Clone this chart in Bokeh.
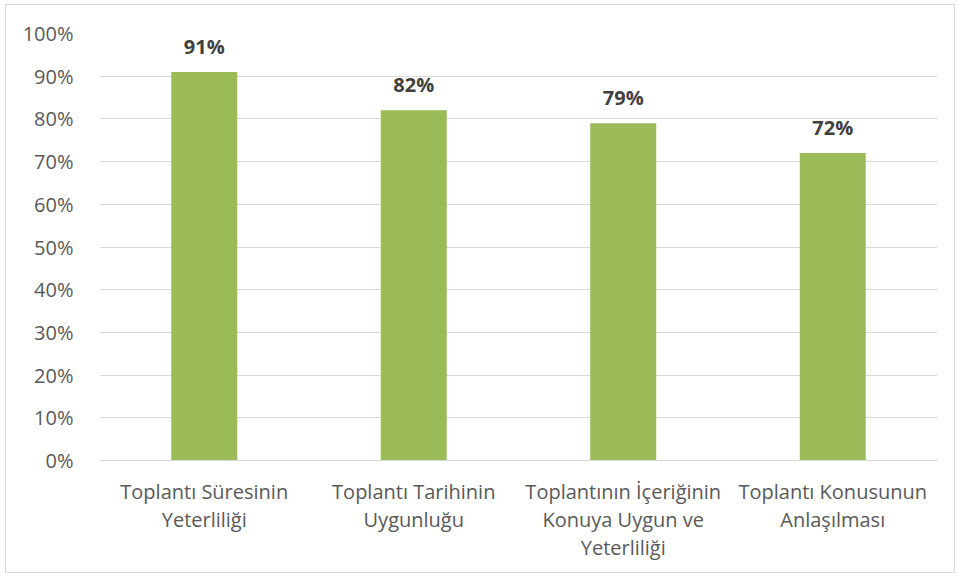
from bokeh.plotting import figure
from bokeh.models import NumeralTickFormatter, ColumnDataSource, FixedTicker
from bokeh.core.properties import value
from bokeh.embed import file_html
from bokeh.resources import INLINE

categories = [
    "Toplantı Süresinin\nYeterliliği",
    "Toplantı Tarihinin\nUygunluğu",
    "Toplantının İçeriğinin\nKonuya Uygun ve\nYeterliliği",
    "Toplantı Konusunun\nAnlaşılması",
]
values = [0.91, 0.82, 0.79, 0.72]
labels = ["91%", "82%", "79%", "72%"]
y_ticks = [0, 0.1, 0.2, 0.3, 0.4, 0.5, 0.6, 0.7, 0.8, 0.9, 1.0]

FONT = "Open Sans"
src = ColumnDataSource(dict(cat=categories, val=values, lab=labels))

p = figure(x_range=categories, y_range=(0, 1.0), width=950, height=569,
           output_backend="svg", toolbar_location=None,
           min_border_left=93, min_border_right=19, min_border_top=28, min_border_bottom=114)
p.vbar(x="cat", top="val", width=0.315, source=src, color="#9BBB59", line_color=None)
p.text(x="cat", y="val", text="lab", source=src, text_align="center", text_baseline="bottom",
       y_offset=-12, text_font=value(FONT), text_font_size="20px", text_font_style="bold",
       text_color="#404040")

p.outline_line_color = None
p.xgrid.grid_line_color = None
p.ygrid.grid_line_color = "#d9d9d9"
p.ygrid.grid_line_width = 1
p.yaxis.ticker = FixedTicker(ticks=y_ticks)
p.yaxis.formatter = NumeralTickFormatter(format="0%")
p.yaxis.axis_line_color = None
p.yaxis.major_tick_line_color = None
p.yaxis.minor_tick_line_color = None
p.yaxis.major_label_text_font = FONT
p.yaxis.major_label_text_font_size = "20px"
p.yaxis.major_label_text_color = "#595959"
p.yaxis.major_label_standoff = 20

p.xaxis.axis_line_color = "#d9d9d9"
p.xaxis.axis_line_width = 1
p.xaxis.major_tick_line_color = None
p.xaxis.minor_tick_line_color = None
p.xaxis.major_label_text_font = FONT
p.xaxis.major_label_text_font_size = "20px"
p.xaxis.major_label_text_color = "#595959"
p.xaxis.major_label_standoff = 11
p.xaxis.major_label_text_line_height = 1.05

p.styles = {"border": "1px solid #d9d9d9", "margin-left": "5px", "margin-top": "4px"}

open("out.html", "w").write(file_html(p, INLINE))
